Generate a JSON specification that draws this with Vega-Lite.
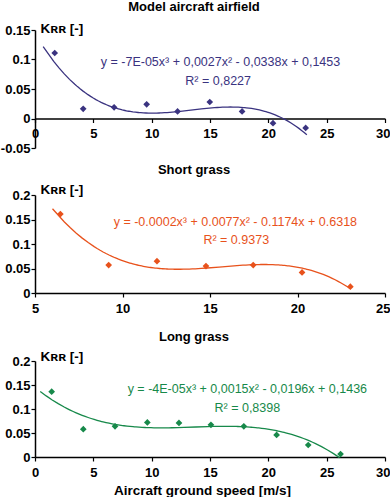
{
  "$schema": "https://vega.github.io/schema/vega-lite/v6.json",
  "padding": {"top": 1, "left": 0, "right": 0, "bottom": 0},
  "background": "white",
  "config": {
    "view": {"stroke": null},
    "axis": {
      "grid": false,
      "domainColor": "#000",
      "domainWidth": 1.5,
      "tickColor": "#000",
      "tickWidth": 1.2,
      "tickSize": 4,
      "labelFont": "Liberation Sans",
      "labelFontWeight": "bold",
      "labelFontSize": 13,
      "labelColor": "#000",
      "labelPadding": 1,
      "labelOverlap": false,
      "labelFlush": false,
      "labelExpr": "toString(datum.value)",
      "titleFont": "Liberation Sans, DejaVu Sans",
      "titleFontWeight": "bold",
      "titleColor": "#000",
      "titleFontSize": 13.5
    },
    "axisX": {"labelPadding": 5},
    "title": {"font": "Liberation Sans", "fontSize": 13, "fontWeight": "bold", "color": "#000", "frame": "group", "dx": -16},
    "text": {"font": "Liberation Sans", "fontSize": 12.5}
  },
  "datasets": {
    "air": [
      {"v": 1.69, "k": 0.111},
      {"v": 4.13, "k": 0.0164},
      {"v": 6.78, "k": 0.019},
      {"v": 9.57, "k": 0.024},
      {"v": 12.22, "k": 0.012},
      {"v": 14.98, "k": 0.028},
      {"v": 17.75, "k": 0.012},
      {"v": 20.4, "k": -0.008},
      {"v": 23.2, "k": -0.016}
    ],
    "short": [
      {"v": 6.45, "k": 0.161},
      {"v": 9.21, "k": 0.057},
      {"v": 11.97, "k": 0.065},
      {"v": 14.77, "k": 0.055},
      {"v": 17.47, "k": 0.057},
      {"v": 20.26, "k": 0.042},
      {"v": 23.02, "k": 0.013}
    ],
    "long": [
      {"v": 1.43, "k": 0.136},
      {"v": 4.14, "k": 0.058},
      {"v": 6.86, "k": 0.064},
      {"v": 9.63, "k": 0.072},
      {"v": 12.34, "k": 0.071},
      {"v": 15.08, "k": 0.067},
      {"v": 17.9, "k": 0.064},
      {"v": 20.71, "k": 0.046},
      {"v": 23.42, "k": 0.025},
      {"v": 26.19, "k": 0.006}
    ]
  },
  "spacing": 9,
  "vconcat": [
    {
      "title": {"text": "Model aircraft airfield", "offset": 7},
      "width": 350,
      "height": 118,
      "layer": [
        {
          "data": {"name": "air"},
          "transform": [{"regression": "k", "on": "v", "method": "poly", "order": 3, "extent": [0.7, 23.3]}],
          "mark": {"type": "line", "color": "#3a3380", "strokeWidth": 1.3},
          "encoding": {
            "x": {"field": "v", "type": "quantitative", "scale": {"domain": [0, 30], "nice": false, "zero": false}, "axis": {"values": [0, 5, 10, 15, 20, 25, 30], "labelOverlap": false, "title": null, "offset": -29.5, "labelAlign": {"condition": {"test": "datum.value == 30", "value": "right"}, "value": "center"}, "labelOffset": {"condition": {"test": "datum.value == 30", "value": 5}, "value": 0}}},
            "y": {"field": "k", "type": "quantitative", "scale": {"domain": [-0.05, 0.15], "nice": false, "zero": false}, "axis": {"values": [-0.05, 0, 0.05, 0.1, 0.15], "labelOverlap": false, "title": "Kʀʀ [-]", "titleAngle": 0, "titleAlign": "left", "titleBaseline": "alphabetic", "titleX": 5, "titleY": 2}}
          }
        },
        {
          "data": {"name": "air"},
          "mark": {"type": "point", "shape": "diamond", "filled": true, "size": 45, "color": "#3a3380", "opacity": 1},
          "encoding": {
            "x": {"field": "v", "type": "quantitative", "scale": {"domain": [0, 30], "nice": false, "zero": false}, "axis": {"values": [0, 5, 10, 15, 20, 25, 30], "labelOverlap": false, "title": null, "offset": -29.5, "labelAlign": {"condition": {"test": "datum.value == 30", "value": "right"}, "value": "center"}, "labelOffset": {"condition": {"test": "datum.value == 30", "value": 5}, "value": 0}}},
            "y": {"field": "k", "type": "quantitative", "scale": {"domain": [-0.05, 0.15], "nice": false, "zero": false}, "axis": {"values": [-0.05, 0, 0.05, 0.1, 0.15], "labelOverlap": false, "title": "Kʀʀ [-]", "titleAngle": 0, "titleAlign": "left", "titleBaseline": "alphabetic", "titleX": 5, "titleY": 2}}
          }
        },
        {
          "data": {"values": [{"t": "y = -7E-05x³ + 0,0027x² - 0,0338x + 0,1453"}]},
          "mark": {"type": "text", "color": "#3a3380"},
          "encoding": {
            "x": {"datum": 15.9, "type": "quantitative", "scale": {"domain": [0, 30], "nice": false, "zero": false}, "axis": {"values": [0, 5, 10, 15, 20, 25, 30], "labelOverlap": false, "title": null, "offset": -29.5, "labelAlign": {"condition": {"test": "datum.value == 30", "value": "right"}, "value": "center"}, "labelOffset": {"condition": {"test": "datum.value == 30", "value": 5}, "value": 0}}},
            "y": {"datum": 0.095, "type": "quantitative", "scale": {"domain": [-0.05, 0.15], "nice": false, "zero": false}, "axis": {"values": [-0.05, 0, 0.05, 0.1, 0.15], "labelOverlap": false, "title": "Kʀʀ [-]", "titleAngle": 0, "titleAlign": "left", "titleBaseline": "alphabetic", "titleX": 5, "titleY": 2}},
            "text": {"field": "t"}
          }
        },
        {
          "data": {"values": [{"t": "R² = 0,8227"}]},
          "mark": {"type": "text", "color": "#3a3380"},
          "encoding": {
            "x": {"datum": 15.7, "type": "quantitative", "scale": {"domain": [0, 30], "nice": false, "zero": false}, "axis": {"values": [0, 5, 10, 15, 20, 25, 30], "labelOverlap": false, "title": null, "offset": -29.5, "labelAlign": {"condition": {"test": "datum.value == 30", "value": "right"}, "value": "center"}, "labelOffset": {"condition": {"test": "datum.value == 30", "value": 5}, "value": 0}}},
            "y": {"datum": 0.064, "type": "quantitative", "scale": {"domain": [-0.05, 0.15], "nice": false, "zero": false}, "axis": {"values": [-0.05, 0, 0.05, 0.1, 0.15], "labelOverlap": false, "title": "Kʀʀ [-]", "titleAngle": 0, "titleAlign": "left", "titleBaseline": "alphabetic", "titleX": 5, "titleY": 2}},
            "text": {"field": "t"}
          }
        }
      ]
    },
    {
      "spacing": 16,
      "vconcat": [
        {
          "title": {"text": "Short grass", "offset": 5},
          "width": 350,
          "height": 98,
          "layer": [
            {
              "data": {"name": "short"},
              "transform": [{"regression": "k", "on": "v", "method": "poly", "order": 3, "extent": [6, 23]}],
              "mark": {"type": "line", "color": "#e8521c", "strokeWidth": 1.3},
              "encoding": {
                "x": {"field": "v", "type": "quantitative", "scale": {"domain": [5, 25], "nice": false, "zero": false}, "axis": {"values": [5, 10, 15, 20, 25], "labelOverlap": false, "title": null, "labelAlign": {"condition": {"test": "datum.value == 25", "value": "right"}, "value": "center"}, "labelOffset": {"condition": {"test": "datum.value == 25", "value": 5}, "value": 0}}},
                "y": {"field": "k", "type": "quantitative", "scale": {"domain": [0, 0.2], "nice": false}, "axis": {"values": [0, 0.05, 0.1, 0.15, 0.2], "labelOverlap": false, "title": "Kʀʀ [-]", "titleAngle": 0, "titleAlign": "left", "titleBaseline": "alphabetic", "titleX": 5, "titleY": -2}}
              }
            },
            {
              "data": {"name": "short"},
              "mark": {"type": "point", "shape": "diamond", "filled": true, "size": 45, "color": "#e8521c", "opacity": 1},
              "encoding": {
                "x": {"field": "v", "type": "quantitative", "scale": {"domain": [5, 25], "nice": false, "zero": false}, "axis": {"values": [5, 10, 15, 20, 25], "labelOverlap": false, "title": null, "labelAlign": {"condition": {"test": "datum.value == 25", "value": "right"}, "value": "center"}, "labelOffset": {"condition": {"test": "datum.value == 25", "value": 5}, "value": 0}}},
                "y": {"field": "k", "type": "quantitative", "scale": {"domain": [0, 0.2], "nice": false}, "axis": {"values": [0, 0.05, 0.1, 0.15, 0.2], "labelOverlap": false, "title": "Kʀʀ [-]", "titleAngle": 0, "titleAlign": "left", "titleBaseline": "alphabetic", "titleX": 5, "titleY": -2}}
              }
            },
            {
              "data": {"values": [{"t": "y = -0.0002x³ + 0.0077x² - 0.1174x + 0.6318"}]},
              "mark": {"type": "text", "color": "#e8521c"},
              "encoding": {
                "x": {"datum": 16.45, "type": "quantitative", "scale": {"domain": [5, 25], "nice": false, "zero": false}, "axis": {"values": [5, 10, 15, 20, 25], "labelOverlap": false, "title": null, "labelAlign": {"condition": {"test": "datum.value == 25", "value": "right"}, "value": "center"}, "labelOffset": {"condition": {"test": "datum.value == 25", "value": 5}, "value": 0}}},
                "y": {"datum": 0.1455, "type": "quantitative", "scale": {"domain": [0, 0.2], "nice": false}, "axis": {"values": [0, 0.05, 0.1, 0.15, 0.2], "labelOverlap": false, "title": "Kʀʀ [-]", "titleAngle": 0, "titleAlign": "left", "titleBaseline": "alphabetic", "titleX": 5, "titleY": -2}},
                "text": {"field": "t"}
              }
            },
            {
              "data": {"values": [{"t": "R² = 0.9373"}]},
              "mark": {"type": "text", "color": "#e8521c"},
              "encoding": {
                "x": {"datum": 16.5, "type": "quantitative", "scale": {"domain": [5, 25], "nice": false, "zero": false}, "axis": {"values": [5, 10, 15, 20, 25], "labelOverlap": false, "title": null, "labelAlign": {"condition": {"test": "datum.value == 25", "value": "right"}, "value": "center"}, "labelOffset": {"condition": {"test": "datum.value == 25", "value": 5}, "value": 0}}},
                "y": {"datum": 0.108, "type": "quantitative", "scale": {"domain": [0, 0.2], "nice": false}, "axis": {"values": [0, 0.05, 0.1, 0.15, 0.2], "labelOverlap": false, "title": "Kʀʀ [-]", "titleAngle": 0, "titleAlign": "left", "titleBaseline": "alphabetic", "titleX": 5, "titleY": -2}},
                "text": {"field": "t"}
              }
            }
          ]
        },
        {
          "title": {"text": "Long grass", "offset": 5},
          "width": 350,
          "height": 96,
          "layer": [
            {
              "data": {"name": "long"},
              "transform": [{"regression": "k", "on": "v", "method": "poly", "order": 3, "extent": [0.45, 26.1]}],
              "mark": {"type": "line", "color": "#17894a", "strokeWidth": 1.3},
              "encoding": {
                "x": {"field": "v", "type": "quantitative", "scale": {"domain": [0, 30], "nice": false, "zero": false}, "axis": {"values": [0, 5, 10, 15, 20, 25, 30], "labelOverlap": false, "title": "Aircraft ground speed [m/s]", "titlePadding": 4, "titleX": 167, "labelAlign": {"condition": {"test": "datum.value == 30", "value": "right"}, "value": "center"}, "labelOffset": {"condition": {"test": "datum.value == 30", "value": 5}, "value": 0}}},
                "y": {"field": "k", "type": "quantitative", "scale": {"domain": [0, 0.2], "nice": false}, "axis": {"values": [0, 0.05, 0.1, 0.15, 0.2], "labelOverlap": false, "title": "Kʀʀ [-]", "titleAngle": 0, "titleAlign": "left", "titleBaseline": "alphabetic", "titleX": 5, "titleY": -1}}
              }
            },
            {
              "data": {"name": "long"},
              "mark": {"type": "point", "shape": "diamond", "filled": true, "size": 45, "color": "#17894a", "opacity": 1},
              "encoding": {
                "x": {"field": "v", "type": "quantitative", "scale": {"domain": [0, 30], "nice": false, "zero": false}, "axis": {"values": [0, 5, 10, 15, 20, 25, 30], "labelOverlap": false, "title": "Aircraft ground speed [m/s]", "titlePadding": 4, "titleX": 167, "labelAlign": {"condition": {"test": "datum.value == 30", "value": "right"}, "value": "center"}, "labelOffset": {"condition": {"test": "datum.value == 30", "value": 5}, "value": 0}}},
                "y": {"field": "k", "type": "quantitative", "scale": {"domain": [0, 0.2], "nice": false}, "axis": {"values": [0, 0.05, 0.1, 0.15, 0.2], "labelOverlap": false, "title": "Kʀʀ [-]", "titleAngle": 0, "titleAlign": "left", "titleBaseline": "alphabetic", "titleX": 5, "titleY": -1}}
              }
            },
            {
              "data": {"values": [{"t": "y = -4E-05x³ + 0,0015x² - 0,0196x + 0,1436"}]},
              "mark": {"type": "text", "color": "#17894a"},
              "encoding": {
                "x": {"datum": 18.2, "type": "quantitative", "scale": {"domain": [0, 30], "nice": false, "zero": false}, "axis": {"values": [0, 5, 10, 15, 20, 25, 30], "labelOverlap": false, "title": "Aircraft ground speed [m/s]", "titlePadding": 4, "titleX": 167, "labelAlign": {"condition": {"test": "datum.value == 30", "value": "right"}, "value": "center"}, "labelOffset": {"condition": {"test": "datum.value == 30", "value": 5}, "value": 0}}},
                "y": {"datum": 0.1417, "type": "quantitative", "scale": {"domain": [0, 0.2], "nice": false}, "axis": {"values": [0, 0.05, 0.1, 0.15, 0.2], "labelOverlap": false, "title": "Kʀʀ [-]", "titleAngle": 0, "titleAlign": "left", "titleBaseline": "alphabetic", "titleX": 5, "titleY": -1}},
                "text": {"field": "t"}
              }
            },
            {
              "data": {"values": [{"t": "R² = 0,8398"}]},
              "mark": {"type": "text", "color": "#17894a"},
              "encoding": {
                "x": {"datum": 18.2, "type": "quantitative", "scale": {"domain": [0, 30], "nice": false, "zero": false}, "axis": {"values": [0, 5, 10, 15, 20, 25, 30], "labelOverlap": false, "title": "Aircraft ground speed [m/s]", "titlePadding": 4, "titleX": 167, "labelAlign": {"condition": {"test": "datum.value == 30", "value": "right"}, "value": "center"}, "labelOffset": {"condition": {"test": "datum.value == 30", "value": 5}, "value": 0}}},
                "y": {"datum": 0.1015, "type": "quantitative", "scale": {"domain": [0, 0.2], "nice": false}, "axis": {"values": [0, 0.05, 0.1, 0.15, 0.2], "labelOverlap": false, "title": "Kʀʀ [-]", "titleAngle": 0, "titleAlign": "left", "titleBaseline": "alphabetic", "titleX": 5, "titleY": -1}},
                "text": {"field": "t"}
              }
            }
          ]
        }
      ]
    }
  ]
}
